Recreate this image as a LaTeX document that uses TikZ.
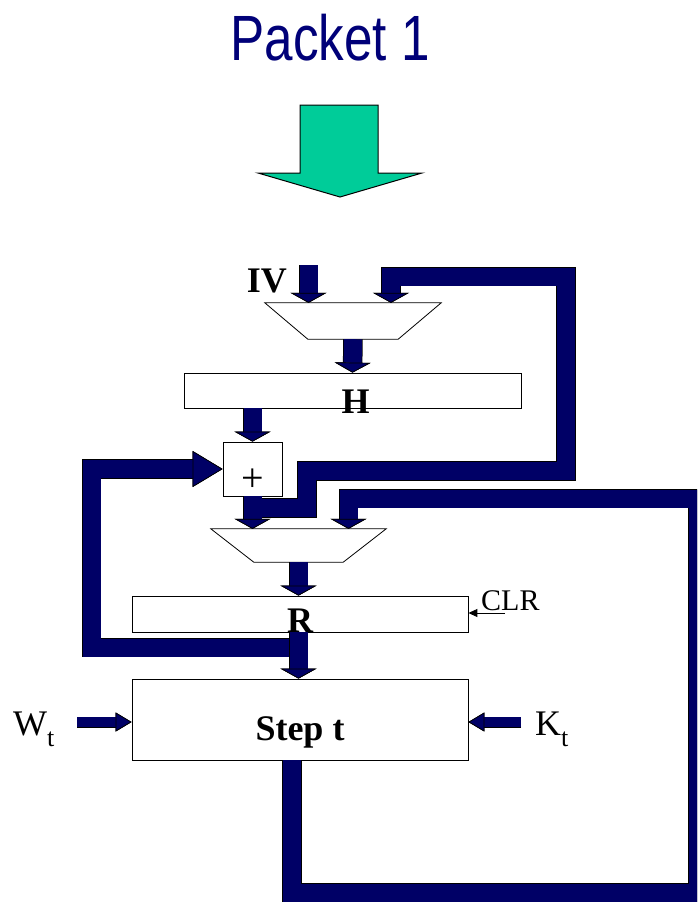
\documentclass[tikz,border=0pt]{standalone}
\usepackage{fontspec}
\setmainfont{Liberation Serif}
\newfontfamily\titlefont{Liberation Sans}
\usetikzlibrary{arrows.meta,positioning,calc}

\definecolor{wirenavy}{RGB}{0,0,102}
\definecolor{titlenavy}{RGB}{0,0,120}
\definecolor{packetgreen}{RGB}{0,204,153}

\tikzset{
  box/.style={draw, line width=0.8pt, fill=white, inner sep=0pt},
  muxarea/.style={inner sep=0pt},
  lbl/.style={font=\fontsize{36}{40}\selectfont\bfseries, inner sep=0pt},
  txt/.style={font=\fontsize{30}{34}\selectfont, inner sep=0pt},
  fat/.style={line width=18pt, wirenavy, line join=miter,
    preaction={draw=black, line width=19.5pt},
    -{Triangle[length=10pt, width=36pt, line width=0.7pt, color=black, fill=wirenavy]}},
  fatlong/.style={fat,
    -{Triangle[length=30pt, width=36pt, line width=0.7pt, color=black, fill=wirenavy]}},
  slim/.style={line width=10pt, wirenavy,
    preaction={draw=black, line width=11pt},
    -{Triangle[length=16pt, width=19pt, line width=0.7pt, color=black, fill=wirenavy]}},
}

% trapezoid drawn inside the area of a mux node
\newcommand{\muxshape}[2]{%
  \draw[line width=0.8pt, fill=white] (#1.north west) -- (#1.north east)
    -- ($(#1.south east)+(-#2,0)$) -- ($(#1.south west)+(#2,0)$) -- cycle;}

\begin{document}
\begin{tikzpicture}[x=1pt,y=-1pt]
  \useasboundingbox (0,0) rectangle (697,902);
  \clip (0,0) rectangle (697,902);

  % title and packet arrow
  \node[font=\titlefont\fontsize{64}{70}\selectfont, text=titlenavy, xscale=0.8,
        anchor=base, inner sep=0pt] (title) at (330,60) {Packet 1};
  \draw[fill=packetgreen, line width=1pt] (300,105) -- (378,105) -- (378,173) -- (422,173)
    -- (340,197) -- (258,173) -- (300,173) -- cycle;

  % blocks
  \node[muxarea, minimum width=176pt, minimum height=36pt] (hmux) at (353,321) {};
  \muxshape{hmux}{43}
  \node[box, minimum width=337pt, minimum height=35pt,
        label={[lbl, anchor=base, xshift=3pt, yshift=-5pt]south:H}] (hreg) at (352.5,390.5) {};
  \node[box, txt, font=\fontsize{40}{44}\selectfont, minimum width=59pt,
        text height=49pt, text depth=5pt] (addbox) at (252.5,469) {+};
  \node[muxarea, minimum width=175pt, minimum height=33pt] (amux) at (298.5,545.5) {};
  \muxshape{amux}{43}
  \node[box, minimum width=336pt, minimum height=36pt,
        label={[lbl, anchor=base]south:R}] (rreg) at (300,614) {};
  \node[box, lbl, minimum width=336pt, text height=61pt, text depth=20pt] (stepbox) at (300,719.5) {Step t};

  % labels
  \node[lbl, anchor=base east] (ivlbl) at (287,292) {IV};
  \node[txt, anchor=base west] (clr) at (481,610) {CLR};
  \node[txt, font=\fontsize{36}{40}\selectfont, anchor=base west] (wt) at (13,735)
    {W\raisebox{-11pt}{\fontsize{26}{28}\selectfont t}};
  \node[txt, font=\fontsize{36}{40}\selectfont, anchor=base west] (kt) at (535,735)
    {K\raisebox{-11pt}{\fontsize{26}{28}\selectfont t}};

  % wire corners
  \coordinate (ivin) at (308.5,265);
  \coordinate (fbA) at (307,508);
  \coordinate (fbB) at (566,471);
  \coordinate (fbC) at (391,276.5);
  \coordinate (lpA) at (91.5,647.5);
  \coordinate (sout) at (292,760);
  \coordinate (lpR) at (697.5,893);
  \coordinate (lpT) at (348.5,498.5);
  \coordinate (wtail) at (77,722);
  \coordinate (ktail) at (521,722);
  \coordinate (clrin) at (505,613);

  % connectors
  \draw[fat] (ivin) -- (ivin |- hmux.north);
  \draw[fat] (hmux.south) -- (hreg.north);
  \draw[fat] (hreg.south -| addbox.north) -- (addbox.north);
  \draw[fat] (addbox.south |- fbA) -- (fbA) |- (fbB) |- (fbC) -- (fbC |- hmux.north);
  \draw[fat] (addbox.south) -- (addbox.south |- amux.north);
  \draw[fat] (sout) |- (lpR) |- (lpT) -- (lpT |- amux.north);
  \draw[fat] (amux.south) -- (amux.south |- rreg.north);
  \draw[fatlong] (amux.south |- lpA) -- (lpA) |- (addbox.west);
  \draw[fat] (amux.south |- rreg.south) -- (amux.south |- stepbox.north);
  \draw[slim] (wtail) -- (wtail -| stepbox.west);
  \draw[slim] (ktail) -- (ktail -| stepbox.east);
  \draw[line width=1pt, -{Triangle[length=9pt, width=8pt]}] (clrin) -- (clrin -| rreg.east);
\end{tikzpicture}
\end{document}
